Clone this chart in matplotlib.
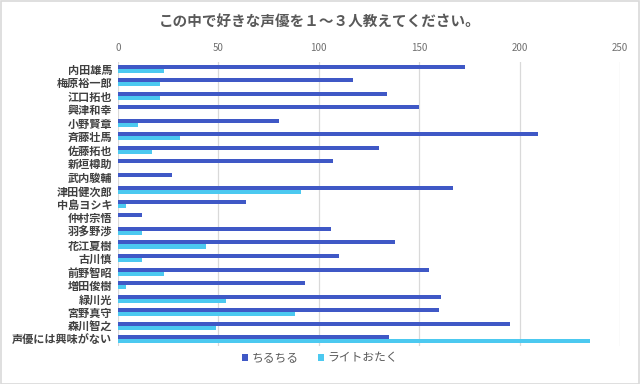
import matplotlib

matplotlib.use("Agg")
import matplotlib.pyplot as plt
import numpy as np
from matplotlib.patches import Rectangle

plt.rcParams["font.family"] = ["Noto Sans CJK JP", "DejaVu Sans"]

# data
names = [
    "内田雄馬", "梅原裕一郎", "江口拓也", "興津和幸", "小野賢章", "斉藤壮馬",
    "佐藤拓也", "新垣樽助", "武内駿輔", "津田健次郎", "中島ヨシキ", "仲村宗悟",
    "羽多野渉", "花江夏樹", "古川慎", "前野智昭", "増田俊樹", "緑川光",
    "宮野真守", "森川智之", "声優には興味がない",
]
chiruchiru = [173, 117, 134, 150, 80, 209, 130, 107, 27, 167, 64, 12,
              106, 138, 110, 155, 93, 161, 160, 195, 135]
light_otaku = [23, 21, 21, 0, 10, 31, 17, 0, 0, 91, 4, 0,
               12, 44, 12, 23, 4, 54, 88, 49, 235]
series_names = ["ちるちる", "ライトおたく"]
xticks = [0, 50, 100, 150, 200, 250]

DARK = "#3f58c6"
LIGHT = "#4cc9f0"
TEXT = "#595959"

fig = plt.figure(figsize=(6.4, 3.84), dpi=100)
fig.patches.append(Rectangle((0.001, 0.001), 0.998, 0.997, transform=fig.transFigure,
                             fill=False, edgecolor="#d9d9d9", linewidth=1.2))
ax = fig.add_axes([0.184, 0.099, 0.785, 0.74])

y = np.arange(len(names))
h = 0.3
ax.barh(y - h / 2, chiruchiru, height=h, color=DARK, label=series_names[0])
ax.barh(y + h / 2, light_otaku, height=h, color=LIGHT, label=series_names[1])

ax.set_ylim(len(names) - 0.5, -0.5)
ax.set_xlim(0, 250)
ax.set_xticks(xticks)
ax.xaxis.tick_top()
ax.tick_params(axis="x", length=0, labelsize=7, colors="#707070", pad=6)
ax.tick_params(axis="y", length=0, labelsize=8, pad=4)
ax.set_yticks(y)
ax.set_yticklabels(names, color="#404040", fontweight="bold")
ax.grid(axis="x", color="#d9d9d9", linewidth=0.9)
ax.set_axisbelow(True)
for s in ax.spines.values():
    s.set_visible(False)

fig.text(0.5, 0.945, "この中で好きな声優を１～３人教えてください。", ha="center", va="center",
         fontsize=10.5, fontweight="bold", color=TEXT)
fig.legend(loc="center", bbox_to_anchor=(0.5, 0.068), ncol=2, frameon=False,
           fontsize=8.5, handlelength=0.55, handleheight=0.55, handletextpad=0.3,
           columnspacing=1.6, labelcolor=TEXT)

fig.savefig("out.png", dpi=100)
